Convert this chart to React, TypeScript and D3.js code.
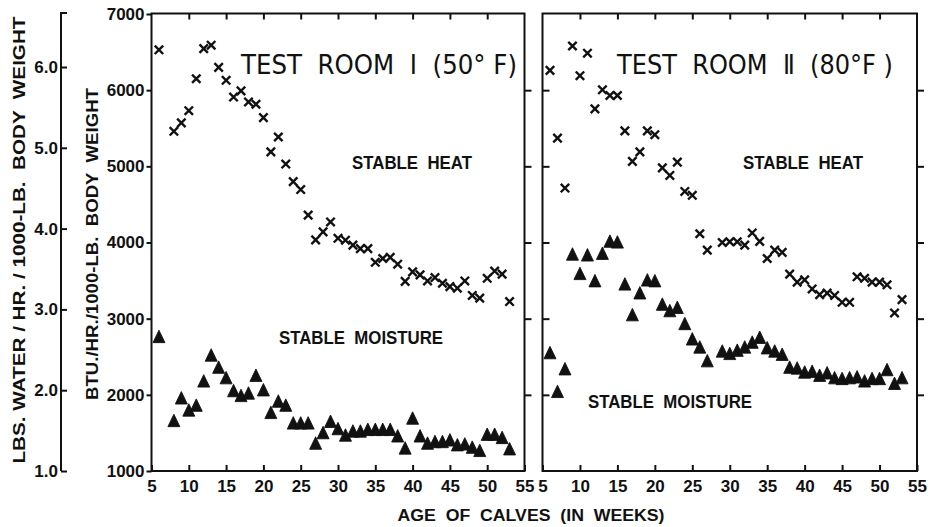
import { useEffect, useRef } from "react";
import * as d3 from "d3";

// weeks of age (x) for each series
const weeksI = [6, 8, 9, 10, 11, 12, 13, 14, 15, 16, 17, 18, 19, 20, 21, 22, 23, 24, 25, 26, 27, 28, 29, 30, 31, 32, 33, 34, 35, 36, 37, 38, 39, 40, 41, 42, 43, 44, 45, 46, 47, 48, 49, 50, 51, 52, 53];
const weeksII = [6, 7, 8, 9, 10, 11, 12, 13, 14, 15, 16, 17, 18, 19, 20, 21, 22, 23, 24, 25, 26, 27, 29, 30, 31, 32, 33, 34, 35, 36, 37, 38, 39, 40, 41, 42, 43, 44, 45, 46, 47, 48, 49, 50, 51, 52, 53];

// stable heat, BTU/hr/1000-lb body weight
const heatI = [6530, 5460, 5570, 5730, 6150, 6545, 6590, 6300, 6130, 5910, 5990, 5845, 5815, 5640, 5190, 5385, 5030, 4800, 4695, 4360, 4035, 4140, 4270, 4055, 4030, 3965, 3920, 3920, 3740, 3790, 3805, 3715, 3490, 3615, 3575, 3495, 3540, 3465, 3420, 3400, 3495, 3305, 3270, 3530, 3625, 3585, 3225];
const heatII = [6260, 5370, 4715, 6580, 6190, 6485, 5755, 6005, 5930, 5930, 5465, 5065, 5190, 5465, 5415, 4980, 4880, 5055, 4670, 4620, 4115, 3900, 4000, 4010, 4010, 3965, 4125, 4015, 3790, 3900, 3870, 3585, 3480, 3510, 3390, 3315, 3335, 3305, 3215, 3215, 3550, 3530, 3480, 3480, 3445, 3075, 3250];

// stable moisture, lbs water/hr/1000-lb body weight
const moistI = [2.64, 1.6, 1.88, 1.73, 1.79, 2.09, 2.41, 2.26, 2.13, 1.97, 1.91, 1.94, 2.16, 1.98, 1.7, 1.84, 1.79, 1.57, 1.57, 1.57, 1.32, 1.45, 1.59, 1.5, 1.42, 1.47, 1.47, 1.49, 1.49, 1.49, 1.49, 1.41, 1.26, 1.63, 1.41, 1.32, 1.34, 1.34, 1.36, 1.3, 1.31, 1.27, 1.23, 1.43, 1.43, 1.39, 1.25];
const moistII = [2.44, 1.96, 2.24, 3.66, 3.42, 3.65, 3.33, 3.67, 3.82, 3.81, 3.29, 2.91, 3.18, 3.34, 3.33, 3.04, 2.96, 3.0, 2.8, 2.61, 2.51, 2.34, 2.46, 2.43, 2.47, 2.51, 2.57, 2.63, 2.5, 2.46, 2.42, 2.26, 2.25, 2.2, 2.21, 2.16, 2.19, 2.13, 2.12, 2.13, 2.14, 2.09, 2.12, 2.12, 2.23, 2.06, 2.13];

const xTicks = [5, 10, 15, 20, 25, 30, 35, 40, 45, 50, 55];
const btuTicks = [1000, 2000, 3000, 4000, 5000, 6000, 7000];
const lbsTicks = [1, 2, 3, 4, 5, 6];
const titles = ["TEST  ROOM  \u2160  (50\u00b0 F)", "TEST  ROOM  \u2161  (80\u00b0F )"];

const FONT = "'Liberation Sans', Arial, sans-serif";
const TITLE_FONT = "'DejaVu Sans', sans-serif";
const INK = "#111";

export default function App() {
  const svgRef = useRef<SVGSVGElement | null>(null);

  useEffect(() => {
    const width = 933;
    const height = 527;
    const top = 13.5;
    const bottom = 471;
    const svg = d3.select(svgRef.current).attr("width", width).attr("height", height);
    svg.selectAll("*").remove();

    const yBtu = d3.scaleLinear().domain([1000, 7000]).range([bottom, 14]);
    const yLbs = d3.scaleLinear().domain([1, 6]).range([bottom, 67]);

    const panels = [
      { left: 151.5, right: 524.5, weeks: weeksI, heat: heatI, moist: moistI, title: titles[0], titleX: 379, heatLbl: [412, 162], moistLbl: [361, 337] },
      { left: 542.5, right: 917, weeks: weeksII, heat: heatII, moist: moistII, title: titles[1], titleX: 755, heatLbl: [803, 162], moistLbl: [670, 401] },
    ];

    const styleAxis = (g: d3.Selection<SVGGElement, unknown, null, undefined>) => {
      g.select(".domain").remove();
      g.selectAll("line").attr("stroke", INK).attr("stroke-width", 2);
      g.selectAll("text")
        .attr("fill", INK)
        .attr("font-family", FONT)
        .attr("font-weight", "bold")
        .attr("font-size", 17);
    };

    const xSym = d3.symbol(d3.symbolX, 48);
    const triSym = d3.symbol(d3.symbolTriangle, 62);

    panels.forEach((p, i) => {
      const x = d3.scaleLinear().domain([5, 55]).range([p.left, p.right]);

      // bottom ticks + labels
      svg.append("g")
        .attr("transform", `translate(0,${bottom})`)
        .call(d3.axisBottom(x).tickValues(xTicks).tickSizeInner(-6).tickSizeOuter(0).tickPadding(9).tickFormat(d3.format("d")))
        .call(styleAxis);
      // top ticks
      svg.append("g")
        .attr("transform", `translate(0,${top})`)
        .call(d3.axisTop(x).tickValues(xTicks.slice(1, -1)).tickSizeInner(-6).tickSizeOuter(0).tickFormat(() => ""))
        .call(styleAxis);

      if (i === 0) {
        svg.append("g")
          .attr("transform", `translate(${p.left},0)`)
          .call(d3.axisLeft(yBtu).tickValues(btuTicks).tickSizeInner(5).tickSizeOuter(0).tickPadding(2).tickFormat(d3.format("d")))
          .call(styleAxis);
      } else {
        svg.append("g")
          .attr("transform", `translate(${p.left},0)`)
          .call(d3.axisRight(yBtu).tickValues(btuTicks.slice(1, -1)).tickSizeInner(7).tickSizeOuter(0).tickFormat(() => ""))
          .call(styleAxis);
      }
      svg.append("g")
        .attr("transform", `translate(${p.right},0)`)
        .call(d3.axisLeft(yBtu).tickValues(btuTicks.slice(1, -1)).tickSizeInner(-7).tickSizeOuter(0).tickFormat(() => ""))
        .call(styleAxis);

      // frame
      svg.append("rect")
        .attr("x", p.left).attr("y", top)
        .attr("width", p.right - p.left).attr("height", bottom - top)
        .attr("fill", "none").attr("stroke", INK).attr("stroke-width", 2);

      // stable heat
      svg.append("g").selectAll("path")
        .data(p.weeks)
        .join("path")
        .attr("d", xSym)
        .attr("transform", (w, j) => `translate(${x(w)},${yBtu(p.heat[j])})`)
        .attr("fill", "none").attr("stroke", INK).attr("stroke-width", 2.4);

      // stable moisture
      svg.append("g").selectAll("path")
        .data(p.weeks)
        .join("path")
        .attr("d", triSym)
        .attr("transform", (w, j) => `translate(${x(w)},${yLbs(p.moist[j])}) scale(1,1.2)`)
        .attr("fill", INK)
        .attr("stroke", INK).attr("stroke-width", 0.8).attr("stroke-linejoin", "round");

      svg.append("text")
        .attr("x", p.titleX).attr("y", 74)
        .attr("text-anchor", "middle")
        .attr("font-family", TITLE_FONT).attr("font-size", 27).attr("fill", INK)
        .attr("textLength", 276).attr("lengthAdjust", "spacingAndGlyphs")
        .style("white-space", "pre")
        .text(p.title);

      svg.append("text")
        .attr("x", p.heatLbl[0]).attr("y", p.heatLbl[1] + 7)
        .attr("text-anchor", "middle")
        .attr("font-family", FONT).attr("font-weight", "bold").attr("font-size", 18).attr("fill", INK)
        .attr("textLength", 120).attr("lengthAdjust", "spacingAndGlyphs")
        .style("white-space", "pre")
        .text("STABLE  HEAT");

      svg.append("text")
        .attr("x", p.moistLbl[0]).attr("y", p.moistLbl[1] + 7)
        .attr("text-anchor", "middle")
        .attr("font-family", FONT).attr("font-weight", "bold").attr("font-size", 18).attr("fill", INK)
        .attr("textLength", 164).attr("lengthAdjust", "spacingAndGlyphs")
        .style("white-space", "pre")
        .text("STABLE  MOISTURE");
    });

    // outer water axis
    const ax = 61;
    svg.append("g")
      .attr("transform", `translate(${ax},0)`)
      .call(d3.axisLeft(yLbs).tickValues(lbsTicks).tickSizeInner(-6).tickSizeOuter(0).tickPadding(3).tickFormat(d3.format(".1f")))
      .call(styleAxis);
    svg.append("path")
      .attr("d", `M${ax + 6},13H${ax}V${bottom}`)
      .attr("fill", "none").attr("stroke", INK).attr("stroke-width", 2);

    // axis titles
    svg.append("text")
      .attr("transform", "translate(25,240) rotate(-90)")
      .attr("text-anchor", "middle")
      .attr("font-family", FONT).attr("font-weight", "bold").attr("font-size", 17).attr("fill", INK)
      .attr("textLength", 447).attr("lengthAdjust", "spacingAndGlyphs")
      .style("white-space", "pre")
      .text("LBS. WATER / HR. / 1000-LB.  BODY  WEIGHT");
    svg.append("text")
      .attr("transform", "translate(98,244) rotate(-90)")
      .attr("text-anchor", "middle")
      .attr("font-family", FONT).attr("font-weight", "bold").attr("font-size", 17).attr("fill", INK)
      .attr("textLength", 312).attr("lengthAdjust", "spacingAndGlyphs")
      .style("white-space", "pre")
      .text("BTU./HR./1000-LB.  BODY  WEIGHT");
    svg.append("text")
      .attr("x", 531).attr("y", 521)
      .attr("text-anchor", "middle")
      .attr("font-family", FONT).attr("font-weight", "bold").attr("font-size", 16).attr("fill", INK)
      .attr("textLength", 267).attr("lengthAdjust", "spacingAndGlyphs")
      .style("white-space", "pre")
      .text("AGE  OF  CALVES  (IN  WEEKS)");
  }, []);

  return (
    <svg ref={svgRef} style={{ position: "absolute", left: 0, top: 0, background: "#fff" }}></svg>
  );
}
